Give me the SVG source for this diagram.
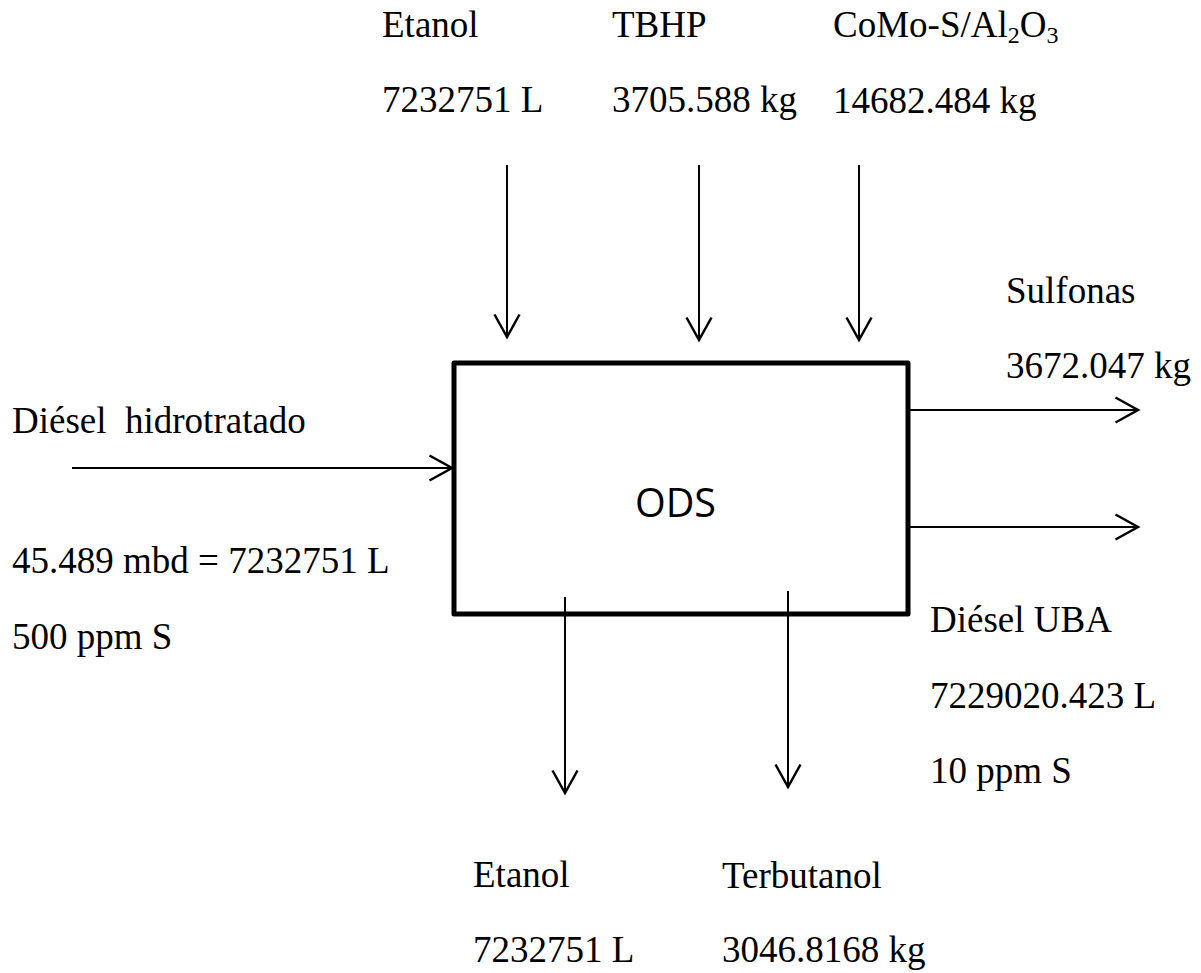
<svg xmlns="http://www.w3.org/2000/svg" width="1201" height="973" viewBox="0 0 1201 973">
<style>
.t{font-family:"Liberation Serif","Times New Roman",serif;font-size:37px;fill:#000}
.c{stroke:#000;stroke-width:2;fill:none}
.box{stroke:#000;stroke-width:5;fill:#fff;stroke-linejoin:round}
</style>
<defs>
<marker id="ah" markerUnits="userSpaceOnUse" markerWidth="30" markerHeight="30" viewBox="-20 -12 22 24" refX="0" refY="0" orient="auto">
<path d="M-18,-10 L0,0 L-18,10" fill="none" stroke="#000" stroke-width="2"/>
</marker>
</defs>
<rect width="1201" height="973" fill="#fff"/>
<g id="ods">
<rect class="box" x="454" y="363" width="454" height="251"/>
<text x="635" y="517" font-family="'Open Sans','Liberation Sans',sans-serif" font-size="41" textLength="81" lengthAdjust="spacingAndGlyphs">ODS</text>
</g>
<g id="connectors">
<line class="c" x1="507" y1="165" x2="507" y2="337" marker-end="url(#ah)"/>
<line class="c" x1="699" y1="165" x2="699" y2="340" marker-end="url(#ah)"/>
<line class="c" x1="859" y1="165" x2="859" y2="340" marker-end="url(#ah)"/>
<line class="c" x1="72" y1="468" x2="452" y2="468" marker-end="url(#ah)"/>
<line class="c" x1="910" y1="410" x2="1138" y2="410" marker-end="url(#ah)"/>
<line class="c" x1="910" y1="527" x2="1138" y2="527" marker-end="url(#ah)"/>
<line class="c" x1="565" y1="597" x2="565" y2="793" marker-end="url(#ah)"/>
<line class="c" x1="788" y1="591" x2="788" y2="787" marker-end="url(#ah)"/>
</g>
<g id="in-etanol">
<text class="t" x="382" y="37">Etanol</text>
<text class="t" x="382" y="112">7232751 L</text>
</g>
<g id="in-tbhp">
<text class="t" x="612" y="37">TBHP</text>
<text class="t" x="612" y="112">3705.588 kg</text>
</g>
<g id="in-catalyst">
<text class="t" x="833" y="37">CoMo-S/Al<tspan font-size="24" dy="6">2</tspan><tspan dy="-6">O</tspan><tspan font-size="24" dy="6">3</tspan></text>
<text class="t" x="833" y="113">14682.484 kg</text>
</g>
<g id="out-sulfonas">
<text class="t" x="1006" y="303">Sulfonas</text>
<text class="t" x="1006" y="378">3672.047 kg</text>
</g>
<g id="in-diesel">
<text class="t" x="12" y="433" xml:space="preserve">Diésel  hidrotratado</text>
<text class="t" x="12" y="573">45.489 mbd = 7232751 L</text>
<text class="t" x="12" y="649">500 ppm S</text>
</g>
<g id="out-diesel">
<text class="t" x="930" y="632">Diésel UBA</text>
<text class="t" x="930" y="708">7229020.423 L</text>
<text class="t" x="930" y="783">10 ppm S</text>
</g>
<g id="out-etanol">
<text class="t" x="473" y="887">Etanol</text>
<text class="t" x="473" y="962">7232751 L</text>
</g>
<g id="out-terbutanol">
<text class="t" x="722" y="888">Terbutanol</text>
<text class="t" x="722" y="962">3046.8168 kg</text>
</g>
</svg>
